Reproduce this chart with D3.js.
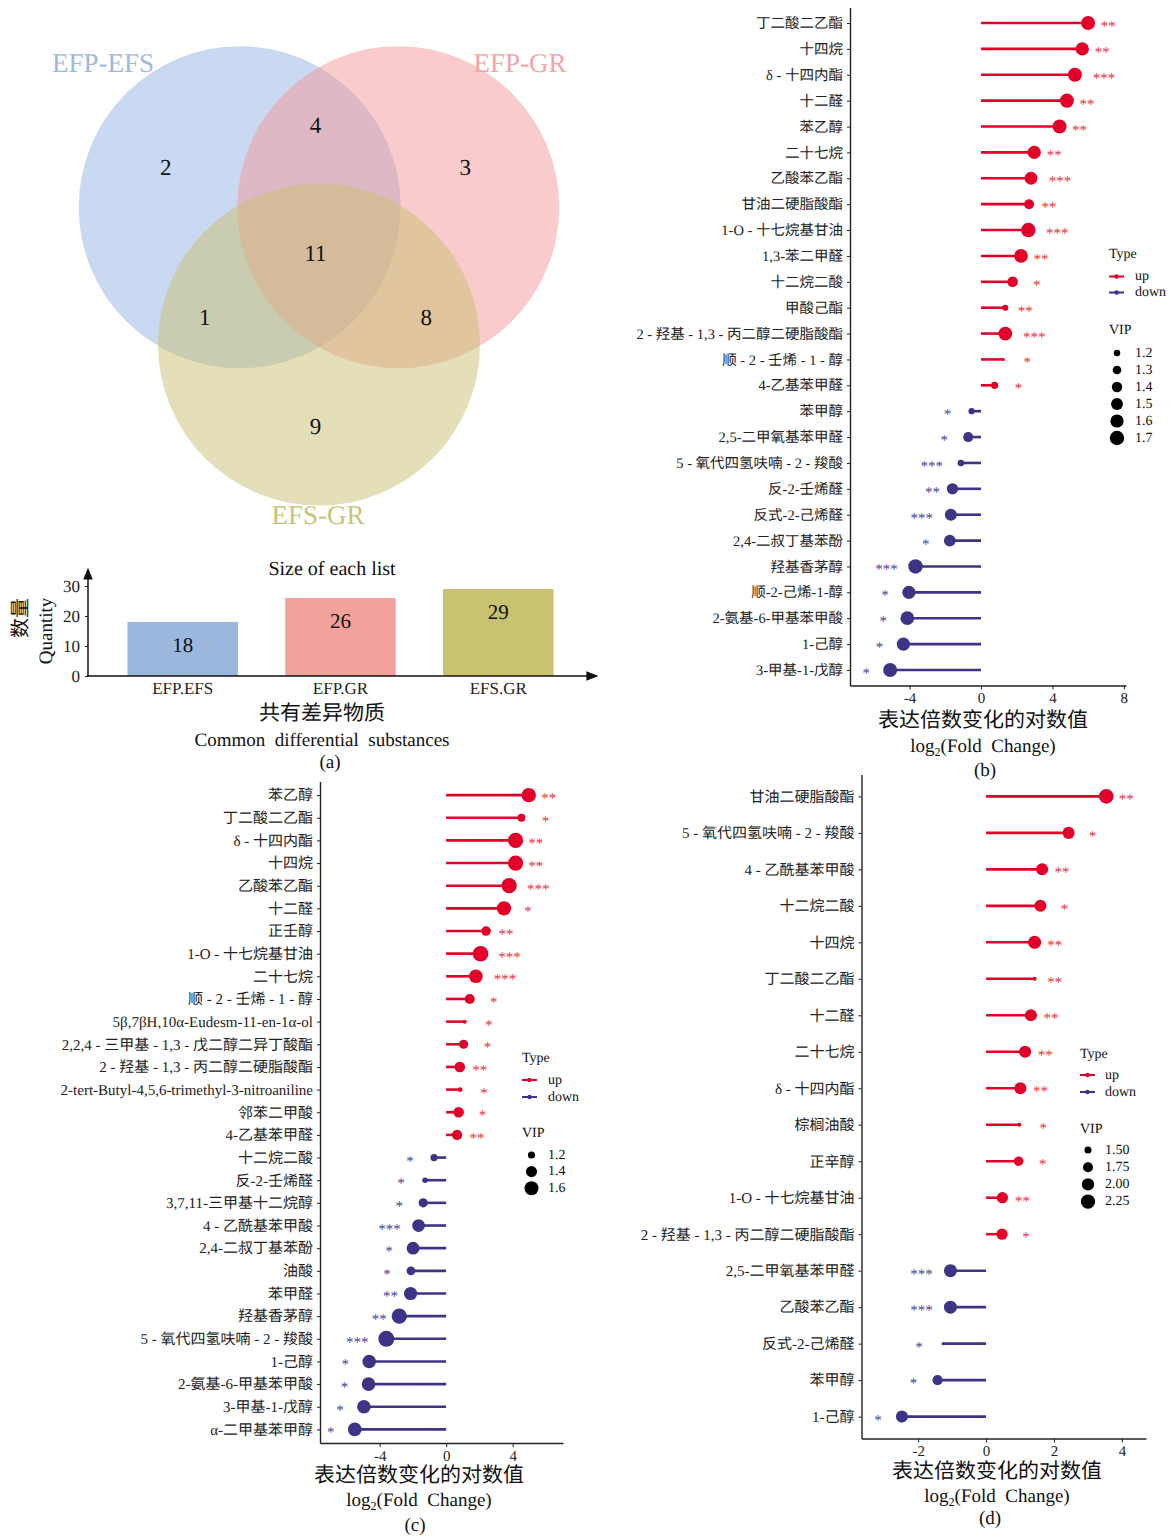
<!DOCTYPE html>
<html>
<head>
<meta charset="utf-8">
<style>
  body { margin: 0; background: #fff; }
  svg { display: block; font-family: 'Liberation Serif', 'Noto Sans CJK SC', serif; }
  svg text { text-rendering: geometricPrecision; -webkit-font-smoothing: antialiased; }
  .axis path, .axis line { stroke: #222; }
  .axis text { fill: #222; }
  .pre { white-space: pre; }
</style>
</head>
<body>
<svg width="1172" height="1536"></svg>
<script src="https://d3js.org/d3.v7.min.js"></script>
<script>
// ---------- (a) venn + bar data
const vennSets = ["EFP-EFS", "EFP-GR", "EFS-GR"]
const vennOnly = [2, 3, 9]          // only in set i
const vennAllButOne = [8, 1, 4]     // in the two sets other than set i
const vennAll = 11

const barCats = ["EFP.EFS", "EFP.GR", "EFS.GR"]
const barValues = [18, 26, 29]
const barTicks = [0, 10, 20, 30]

// ---------- (b)
const bNames = ["丁二酸二乙酯", "十四烷", "δ - 十四内酯", "十二醛", "苯乙醇", "二十七烷", "乙酸苯乙酯", "甘油二硬脂酸酯",
  "1-O - 十七烷基甘油", "1,3-苯二甲醛", "十二烷二酸", "甲酸己酯", "2 - 羟基 - 1,3 - 丙二醇二硬脂酸酯", "顺 - 2 - 壬烯 - 1 - 醇",
  "4-乙基苯甲醛", "苯甲醇", "2,5-二甲氧基苯甲醛", "5 - 氧代四氢呋喃 - 2 - 羧酸", "反-2-壬烯醛", "反式-2-己烯醛",
  "2,4-二叔丁基苯酚", "羟基香茅醇", "顺-2-己烯-1-醇", "2-氨基-6-甲基苯甲酸", "1-己醇", "3-甲基-1-戊醇"]
const bLogFC = [6.0, 5.67, 5.26, 4.81, 4.4, 2.98, 2.8, 2.69, 2.65, 2.24, 1.77, 1.36, 1.36, 1.25, 0.76,
  -0.53, -0.72, -1.13, -1.6, -1.69, -1.75, -3.67, -4.04, -4.13, -4.35, -5.09]
const bVIP = [1.66, 1.6, 1.66, 1.67, 1.66, 1.6, 1.57, 1.37, 1.7, 1.64, 1.41, 1.18, 1.64, 1.1, 1.23,
  1.19, 1.38, 1.2, 1.46, 1.51, 1.49, 1.7, 1.6, 1.64, 1.6, 1.66]
const bSig = ["**", "**", "***", "**", "**", "**", "***", "**", "***", "**", "*", "**", "***", "*", "*",
  "*", "*", "***", "**", "***", "*", "***", "*", "*", "*", "*"]
const bTicks = [-4, 0, 4, 8]
const bVipBreaks = [1.2, 1.3, 1.4, 1.5, 1.6, 1.7]

// ---------- (c)
const cNames = ["苯乙醇", "丁二酸二乙酯", "δ - 十四内酯", "十四烷", "乙酸苯乙酯", "十二醛", "正壬醇", "1-O - 十七烷基甘油",
  "二十七烷", "顺 - 2 - 壬烯 - 1 - 醇", "5β,7βH,10α-Eudesm-11-en-1α-ol", "2,2,4 - 三甲基 - 1,3 - 戊二醇二异丁酸酯",
  "2 - 羟基 - 1,3 - 丙二醇二硬脂酸酯", "2-tert-Butyl-4,5,6-trimethyl-3-nitroaniline", "邻苯二甲酸", "4-乙基苯甲醛",
  "十二烷二酸", "反-2-壬烯醛", "3,7,11-三甲基十二烷醇", "4 - 乙酰基苯甲酸", "2,4-二叔丁基苯酚", "油酸", "苯甲醛",
  "羟基香茅醇", "5 - 氧代四氢呋喃 - 2 - 羧酸", "1-己醇", "2-氨基-6-甲基苯甲酸", "3-甲基-1-戊醇", "α-二甲基苯甲醇"]
const cLogFC = [4.97, 4.53, 4.18, 4.18, 3.79, 3.48, 2.4, 2.07, 1.79, 1.42, 1.12, 1.05, 0.82, 0.84, 0.75, 0.66,
  -0.73, -1.27, -1.38, -1.66, -1.99, -2.12, -2.14, -2.82, -3.6, -4.63, -4.67, -4.95, -5.5]
const cVIP = [1.63, 1.23, 1.7, 1.7, 1.7, 1.63, 1.31, 1.73, 1.57, 1.33, 1.1, 1.29, 1.37, 1.12, 1.37, 1.35,
  1.2, 1.14, 1.29, 1.51, 1.51, 1.27, 1.54, 1.7, 1.77, 1.57, 1.57, 1.57, 1.57]
const cSig = ["**", "*", "**", "**", "***", "*", "**", "***", "***", "*", "*", "*", "**", "*", "*", "**",
  "*", "*", "*", "***", "*", "*", "**", "**", "***", "*", "*", "*", "*"]
const cTicks = [-4, 0, 4]
const cVipBreaks = [1.2, 1.4, 1.6]

// ---------- (d)
const dNames = ["甘油二硬脂酸酯", "5 - 氧代四氢呋喃 - 2 - 羧酸", "4 - 乙酰基苯甲酸", "十二烷二酸", "十四烷", "丁二酸二乙酯",
  "十二醛", "二十七烷", "δ - 十四内酯", "棕榈油酸", "正辛醇", "1-O - 十七烷基甘油", "2 - 羟基 - 1,3 - 丙二醇二硬脂酸酯",
  "2,5-二甲氧基苯甲醛", "乙酸苯乙酯", "反式-2-己烯醛", "苯甲醇", "1-己醇"]
const dLogFC = [3.54, 2.43, 1.65, 1.6, 1.43, 1.43, 1.32, 1.15, 1.01, 0.98, 0.96, 0.48, 0.47, -1.05, -1.05, -1.27, -1.43, -2.48]
const dVIP = [2.29, 1.96, 1.96, 1.96, 2.08, 1.33, 1.96, 1.96, 1.96, 1.33, 1.7, 1.87, 1.87, 2.08, 2.08, 1.3, 1.76, 1.96]
const dSig = ["**", "*", "**", "*", "**", "**", "**", "**", "**", "*", "*", "**", "*", "***", "***", "*", "*", "*"]
const dTicks = [-2, 0, 2, 4]
const dVipBreaks = [1.5, 1.75, 2.0, 2.25]

const upCol = "#e2002a", downCol = "#3d3486"
const upStar = "#e8333c", downStar = "#4a3f96"

let svg = d3.select("svg")

// ================= venn =================
const vennFill = ["#94b4e4", "#f4989a", "#c9c072"]
const vennText = ["#9db8e2", "#f5a3a3", "#c9c37a"]
const cx0 = 319, cy0 = 253, dist = 91.5, rad = 161
const angles = [210, 330, 90].map(a => a * Math.PI / 180)
const pol = (a, d) => [cx0 + d * Math.cos(a), cy0 + d * Math.sin(a)]

svg.append("g").selectAll("circle")
  .data(vennSets)
  .join("circle")
  .attr("cx", (d, i) => pol(angles[i], dist)[0])
  .attr("cy", (d, i) => pol(angles[i], dist)[1])
  .attr("r", rad)
  .attr("fill", (d, i) => vennFill[i])
  .attr("fill-opacity", 0.5)

let vennLabelPos = [[103, 63], [520, 63], [318, 515]]
svg.append("g").selectAll("text")
  .data(vennSets)
  .join("text")
  .attr("x", (d, i) => vennLabelPos[i][0])
  .attr("y", (d, i) => vennLabelPos[i][1] + 9)
  .attr("text-anchor", "middle")
  .attr("font-size", 27)
  .attr("fill", (d, i) => vennText[i])
  .text(d => d)

let vennNums = []
vennOnly.forEach((v, i) => vennNums.push({ v, p: pol(angles[i], 173) }))
vennAllButOne.forEach((v, i) => vennNums.push({ v, p: pol(angles[i] + Math.PI, 128) }))
vennNums.push({ v: vennAll, p: [cx0, cy0] })

svg.append("g").selectAll("text")
  .data(vennNums)
  .join("text")
  .attr("x", d => d.p[0] - 3.5)
  .attr("y", d => d.p[1] + 8)
  .attr("text-anchor", "middle")
  .attr("font-size", 23)
  .attr("fill", "#111")
  .text(d => d.v)

// ================= bar chart =================
const barFill = ["#9bb7de", "#f2a19c", "#c8c271"]
let xb = d3.scaleBand().domain(barCats).range([88, 593]).paddingInner(0.3).paddingOuter(0.25)
let yb = d3.scaleLinear().domain([0, 30]).range([676, 586])

svg.append("defs").append("marker")
  .attr("id", "arrow")
  .attr("viewBox", "0 0 10 10")
  .attr("refX", 8).attr("refY", 5)
  .attr("markerWidth", 8).attr("markerHeight", 8)
  .attr("orient", "auto")
  .append("path").attr("d", "M0,1 L10,5 L0,9 Z").attr("fill", "#111")

svg.append("g").selectAll("rect")
  .data(barValues)
  .join("rect")
  .attr("x", (d, i) => xb(barCats[i]))
  .attr("width", xb.bandwidth())
  .attr("y", d => yb(d))
  .attr("height", d => yb(0) - yb(d))
  .attr("fill", (d, i) => barFill[i])

svg.append("g").selectAll("text")
  .data(barValues)
  .join("text")
  .attr("x", (d, i) => xb(barCats[i]) + xb.bandwidth() / 2)
  .attr("y", d => yb(d) + 30)
  .attr("text-anchor", "middle")
  .attr("font-size", 21)
  .attr("fill", "#111")
  .text(d => d)

let yAxB = svg.append("g").attr("class", "axis")
  .attr("transform", "translate(88,0)")
  .call(d3.axisLeft(yb).tickValues(barTicks).tickSize(3).tickSizeOuter(0).tickPadding(5))
  .attr("font-family", null)
yAxB.select(".domain").remove()
yAxB.selectAll("text").attr("font-size", 17)

let xAxB = svg.append("g").attr("class", "axis")
  .attr("transform", "translate(0,676)")
  .call(d3.axisBottom(xb).tickSize(0).tickPadding(6))
  .attr("font-family", null)
xAxB.select(".domain").remove()
xAxB.selectAll("text").attr("font-size", 17)

svg.append("line").attr("x1", 88).attr("x2", 88).attr("y1", 677).attr("y2", 570)
  .attr("stroke", "#111").attr("stroke-width", 1.5).attr("marker-end", "url(#arrow)")
svg.append("line").attr("x1", 87).attr("x2", 596).attr("y1", 676).attr("y2", 676)
  .attr("stroke", "#111").attr("stroke-width", 1.5).attr("marker-end", "url(#arrow)")

svg.append("text").attr("x", 332).attr("y", 575).attr("text-anchor", "middle")
  .attr("font-size", 20).attr("fill", "#111").text("Size of each list")
svg.append("text").attr("transform", "translate(27,618) rotate(-90)").attr("text-anchor", "middle")
  .attr("font-size", 20).attr("fill", "#111").text("数量")
svg.append("text").attr("transform", "translate(52,631) rotate(-90)").attr("text-anchor", "middle")
  .attr("font-size", 19).attr("fill", "#111").text("Quantity")
svg.append("text").attr("x", 322).attr("y", 720).attr("text-anchor", "middle")
  .attr("font-size", 21).attr("fill", "#111").text("共有差异物质")
svg.append("text").attr("class", "pre").attr("x", 322).attr("y", 746).attr("text-anchor", "middle")
  .attr("font-size", 19).attr("fill", "#111").text("Common  differential  substances")
svg.append("text").attr("class", "pre").attr("x", 330).attr("y", 768).attr("text-anchor", "middle")
  .attr("font-size", 19).attr("fill", "#111").text("(a)")

// ================= lollipop panels =================
const starOff = { 1: 24, 2: 20, 3: 29 }

function lollipop(p) {
  let g = svg.append("g")
  let y = d3.scalePoint().domain(p.names).range(p.yRange).padding(0.6)
  let x = d3.scaleLinear().domain(p.xDomain).range(p.xRange)
  let r = d3.scaleRadial().domain(p.vipDomain).range(p.rRange).clamp(true)

  let rows = p.names.map((n, i) => ({ n, v: p.fc[i], vip: p.vip[i], s: p.sig[i] }))
  let col = d => d.v >= 0 ? upCol : downCol

  g.append("g").selectAll("line")
    .data(rows)
    .join("line")
    .attr("x1", x(0)).attr("x2", d => x(d.v))
    .attr("y1", d => y(d.n)).attr("y2", d => y(d.n))
    .attr("stroke", col).attr("stroke-width", 2.6)

  g.append("g").selectAll("circle")
    .data(rows)
    .join("circle")
    .attr("cx", d => x(d.v)).attr("cy", d => y(d.n))
    .attr("r", d => r(d.vip))
    .attr("fill", col)

  g.append("g").selectAll("text")
    .data(rows)
    .join("text")
    .attr("x", d => x(d.v) + (d.v >= 0 ? 1 : -1) * starOff[d.s.length])
    .attr("y", d => y(d.n) + 8)
    .attr("text-anchor", "middle")
    .attr("font-size", 15)
    .attr("fill", d => d.v >= 0 ? upStar : downStar)
    .text(d => d.s)

  let yAx = g.append("g").attr("class", "axis")
    .attr("transform", `translate(${p.xRange[0]},0)`)
    .call(d3.axisLeft(y).tickSize(3).tickSizeOuter(0).tickPadding(4))
    .attr("font-family", null)
  yAx.select(".domain").attr("stroke-width", 1.4)
  yAx.selectAll("text").attr("font-size", p.labSize)

  let xAx = g.append("g").attr("class", "axis")
    .attr("transform", `translate(0,${p.yRange[1]})`)
    .call(d3.axisBottom(x).tickValues(p.ticks).tickSize(4).tickSizeOuter(0).tickPadding(3).tickFormat(d => String(d)))
    .attr("font-family", null)
  xAx.select(".domain").attr("stroke-width", 1.4)
  xAx.selectAll("text").attr("font-size", 15)

  // titles
  let t = p.title
  g.append("text").attr("x", t.x).attr("y", t.y1 + 7).attr("text-anchor", "middle")
    .attr("font-size", 21).attr("fill", "#111").text("表达倍数变化的对数值")
  let lt = g.append("text").attr("class", "pre").attr("x", t.x).attr("y", t.y2 + 6)
    .attr("text-anchor", "middle").attr("font-size", 19).attr("fill", "#111")
  lt.append("tspan").text("log")
  lt.append("tspan").attr("font-size", 12).attr("dy", 4).text("2")
  lt.append("tspan").attr("dy", -4).text("(Fold  Change)")
  g.append("text").attr("class", "pre").attr("x", t.x + t.labDx).attr("y", t.y3 + 6).attr("text-anchor", "middle")
    .attr("font-size", 19).attr("fill", "#111").text(p.tag)

  // legend
  let L = p.legend
  let lg = g.append("g").attr("font-size", 14).attr("fill", "#111")
  lg.append("text").attr("x", L.x).attr("y", L.typeY).attr("dominant-baseline", "central").text("Type")
  let types = [["up", upCol], ["down", downCol]]
  types.forEach((tp, i) => {
    let yy = L.keyY[i]
    lg.append("line").attr("x1", L.x).attr("x2", L.x + 15).attr("y1", yy).attr("y2", yy)
      .attr("stroke", tp[1]).attr("stroke-width", 2)
    lg.append("circle").attr("cx", L.x + 7.5).attr("cy", yy).attr("r", 2.2).attr("fill", tp[1])
    lg.append("text").attr("x", L.tx).attr("y", yy).attr("dominant-baseline", "central").text(tp[0])
  })
  lg.append("text").attr("x", L.x).attr("y", L.vipY).attr("dominant-baseline", "central").text("VIP")
  p.breaks.forEach((b, i) => {
    let yy = L.y0 + i * L.dy
    lg.append("circle").attr("cx", L.dotX).attr("cy", yy).attr("r", r(b)).attr("fill", "#000")
    lg.append("text").attr("x", L.tx).attr("y", yy).attr("dominant-baseline", "central").text(p.fmt(b))
  })
}

lollipop({
  names: bNames, fc: bLogFC, vip: bVIP, sig: bSig, ticks: bTicks, breaks: bVipBreaks,
  fmt: d3.format(".1f"), labSize: 14.5,
  yRange: [7.5, 685.5], xRange: [850, 1126], xDomain: [-7.34, 8.12],
  vipDomain: [1.1, 1.75], rRange: [1.5, 7.5],
  title: { x: 983, y1: 720, y2: 746, y3: 770, labDx: 2 }, tag: "(b)",
  legend: { x: 1109, tx: 1135, typeY: 254, keyY: [276.5, 292.5], vipY: 330, y0: 353, dy: 17, dotX: 1117 }
})

lollipop({
  names: cNames, fc: cLogFC, vip: cVIP, sig: cSig, ticks: cTicks, breaks: cVipBreaks,
  fmt: d3.format(".1f"), labSize: 15,
  yRange: [781.5, 1443], xRange: [320, 563], xDomain: [-7.59, 7.03],
  vipDomain: [1.1, 1.77], rRange: [2, 8],
  title: { x: 419, y1: 1475, y2: 1500, y3: 1525, labDx: -4 }, tag: "(c)",
  legend: { x: 522, tx: 548, typeY: 1058, keyY: [1080, 1097], vipY: 1133, y0: 1155, dy: 16.6, dotX: 531.5 }
})

lollipop({
  names: dNames, fc: dLogFC, vip: dVIP, sig: dSig, ticks: dTicks, breaks: dVipBreaks,
  fmt: d3.format(".2f"), labSize: 15,
  yRange: [774.5, 1438.5], xRange: [861.5, 1146], xDomain: [-3.67, 4.71],
  vipDomain: [1.3, 2.35], rRange: [1.5, 7.5],
  title: { x: 997, y1: 1471, y2: 1496, y3: 1518, labDx: -7 }, tag: "(d)",
  legend: { x: 1080, tx: 1105, typeY: 1054, keyY: [1075, 1092], vipY: 1129, y0: 1150, dy: 17.2, dotX: 1088 }
})
</script>
</body>
</html>
